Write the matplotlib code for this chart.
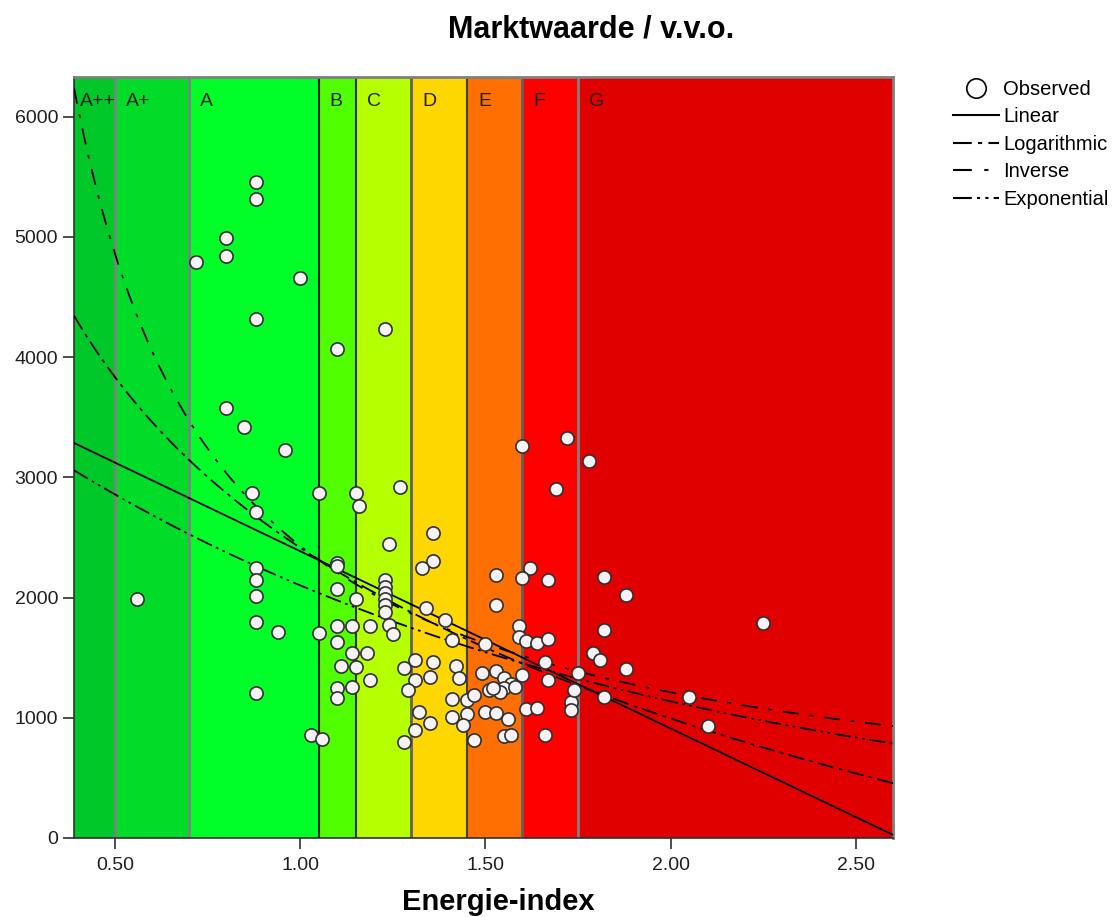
import matplotlib
matplotlib.use("Agg")
import matplotlib.pyplot as plt  # noqa: E402
import numpy as np  # noqa: E402
from matplotlib.lines import Line2D  # noqa: E402

plt.rcParams["font.family"] = ["Liberation Sans", "DejaVu Sans"]

# energy label bands (lower bound of each band, last one runs to the axis edge)
LABELS = ["A++", "A+", "A", "B", "C", "D", "E", "F", "G"]
BAND_START = [0.39, 0.50, 0.70, 1.05, 1.15, 1.30, 1.45, 1.60, 1.75]
BAND_COLOR = ["#00c828", "#00dc28", "#00ff28", "#50ff00", "#b4ff00",
              "#ffd700", "#ff6e00", "#ff0000", "#e00000"]
EDGE_COLOR = ["#808080", "#808080", "#202020", "#303030", "#606060",
              "#404040", "#606060", "#808080"]

# observed: energy-index vs market value per m2
energie = [0.72, 0.80, 0.80, 0.88, 0.88, 0.88, 1.00, 1.10, 1.23,
           0.80, 0.85, 0.96, 0.87, 0.88, 1.05, 1.15, 1.16, 1.27, 1.36, 1.36,
           1.33, 1.24, 1.10, 1.10, 1.10, 1.15,
           1.23, 1.23, 1.23, 1.23, 1.23, 1.23,
           0.88, 0.88, 0.88, 0.88, 0.94, 1.05, 0.56, 0.88, 1.03, 1.06,
           1.10, 1.10, 1.14, 1.19, 1.24, 1.25, 1.14, 1.18, 1.11, 1.15,
           1.19, 1.10, 1.10, 1.14,
           1.28, 1.31, 1.28, 1.36, 1.35, 1.31, 1.29, 1.32, 1.35, 1.31,
           1.34, 1.39, 1.41,
           1.42, 1.43, 1.41, 1.41, 1.45, 1.45, 1.44, 1.47, 1.47, 1.49,
           1.50, 1.53, 1.51, 1.55, 1.57, 1.55, 1.54, 1.50, 1.53, 1.56,
           1.55, 1.57, 1.58, 1.52,
           1.53, 1.53, 1.59, 1.59, 1.61, 1.64, 1.67, 1.60, 1.66, 1.67,
           1.61, 1.64, 1.66, 1.62, 1.60, 1.67, 1.69, 1.60, 1.72, 1.78,
           1.73, 1.73, 1.75, 1.74, 1.82, 1.88, 1.82, 1.79, 1.81, 1.88,
           1.82, 2.25, 2.05, 2.10]
marktwaarde = [4790, 4990, 4845, 5460, 5315, 4315, 4655, 4065, 4230,
               3575, 3420, 3230, 2870, 2710, 2870, 2870, 2760, 2920, 2535, 2300,
               2245, 2445, 2290, 2260, 2070, 1985,
               2150, 2090, 2040, 1990, 1940, 1880,
               2245, 2150, 2015, 1795, 1710, 1705, 1990, 1205, 855, 820,
               1760, 1630, 1760, 1760, 1770, 1700, 1535, 1535, 1430, 1420,
               1315, 1245, 1165, 1260,
               800, 1480, 1410, 1465, 1340, 1315, 1230, 1050, 955, 900,
               1910, 1815, 1650,
               1430, 1335, 1160, 1010, 1150, 1035, 940, 1190, 815, 1375,
               1615, 1385, 1230, 1330, 1285, 1245, 1215, 1050, 1040, 990,
               850, 855, 1260, 1245,
               2190, 1940, 1760, 1675, 1635, 1620, 1655, 1355, 1465, 1315,
               1070, 1080, 855, 2245, 2160, 2150, 2900, 3260, 3325, 3135,
               1135, 1065, 1370, 1230, 2170, 2020, 1730, 1540, 1480, 1405,
               1175, 1790, 1175, 930]

# fitted curve coefficients
LIN = (3861, -1475)        # b0 + b1*x
LOG = (2415, -2050)        # b0 + b1*ln(x)
INV = (-6, 2436)           # b0 + b1/x
EXP = (3888, -0.615)       # b0 * exp(b1*x)

XMIN, XMAX = 0.39, 2.60
YMIN, YMAX = 0, 6330

fig = plt.figure(figsize=(11.18, 9.17), dpi=100)
ax = fig.add_axes([74 / 1118, 1 - 838 / 917, (893 - 74) / 1118, (838 - 77) / 917])

bounds = BAND_START + [XMAX]
for i, (lab, col) in enumerate(zip(LABELS, BAND_COLOR)):
    ax.axvspan(bounds[i], bounds[i + 1], color=col, lw=0, zorder=0)
    off = 0.015 if i == 0 else 0.03
    ax.text(bounds[i] + off, 6130, lab, fontsize=14, color="#202020",
            ha="left", va="center", zorder=1)
for b, ec in zip(BAND_START[1:], EDGE_COLOR):
    lw = 2 if ec in ("#808080", "#606060") else 1.5
    ax.axvline(b, color=ec, lw=lw, zorder=1)

xs = np.linspace(XMIN, XMAX, 400)
ls_lin = "-"
ls_log = (0, (9, 3, 2, 3))
ls_inv = (0, (9, 6, 2, 6))
ls_exp = (0, (9, 2.5, 1.5, 2.5, 1.5, 2.5))
ax.plot(xs, LIN[0] + LIN[1] * xs, color="black", lw=1.3, ls=ls_lin, zorder=3)
ax.plot(xs, LOG[0] + LOG[1] * np.log(xs), color="black", lw=1.3, ls=ls_log, zorder=3)
ax.plot(xs, INV[0] + INV[1] / xs, color="black", lw=1.3, ls=ls_inv, zorder=3)
ax.plot(xs, EXP[0] * np.exp(EXP[1] * xs), color="black", lw=1.3, ls=ls_exp, zorder=3)

ax.scatter(energie, marktwaarde, s=90, facecolor="#f6f2f6", edgecolor="#303030",
           linewidths=1.2, zorder=4)

ax.set_xlim(XMIN, XMAX)
ax.set_ylim(YMIN, YMAX)
ax.set_xticks([0.5, 1.0, 1.5, 2.0, 2.5])
ax.set_xticklabels([f"{v:.2f}" for v in [0.5, 1.0, 1.5, 2.0, 2.5]])
ax.set_yticks(range(0, 6001, 1000))
ax.tick_params(axis="both", direction="out", length=8, width=1.2, color="#303030",
               labelsize=14, labelcolor="#202020", top=False, right=False)
ax.tick_params(axis="x", pad=6)
for side in ("top", "right"):
    ax.spines[side].set_color("#808080")
    ax.spines[side].set_linewidth(2)
for side in ("left", "bottom"):
    ax.spines[side].set_color("#303030")
    ax.spines[side].set_linewidth(1.2)

ax.set_xlabel("Energie-index", fontsize=21, fontweight="bold", va="center")
ax.xaxis.set_label_coords(0.518, -0.084)
fig.text(591 / 1118, 1 - 30 / 917, "Marktwaarde / v.v.o.", fontsize=22,
         fontweight="bold", ha="center", va="center")

handles = [
    Line2D([], [], ls="none", marker="o", markersize=14, markerfacecolor="white",
           markeredgecolor="black", markeredgewidth=1.2),
    Line2D([], [], color="black", lw=1.5, ls=ls_lin),
    Line2D([], [], color="black", lw=1.5, ls=ls_log),
    Line2D([], [], color="black", lw=1.5, ls=ls_inv),
    Line2D([], [], color="black", lw=1.5, ls=ls_exp),
]
fig.legend(handles, ["Observed", "Linear", "Logarithmic", "Inverse", "Exponential"],
           loc="upper left", bbox_to_anchor=(953 / 1118, 1 - 80 / 917), frameon=False,
           fontsize=14.5, handlelength=2.3, handletextpad=0.2, labelspacing=0.42,
           borderpad=0, borderaxespad=0)

fig.savefig("out.png", dpi=100)
